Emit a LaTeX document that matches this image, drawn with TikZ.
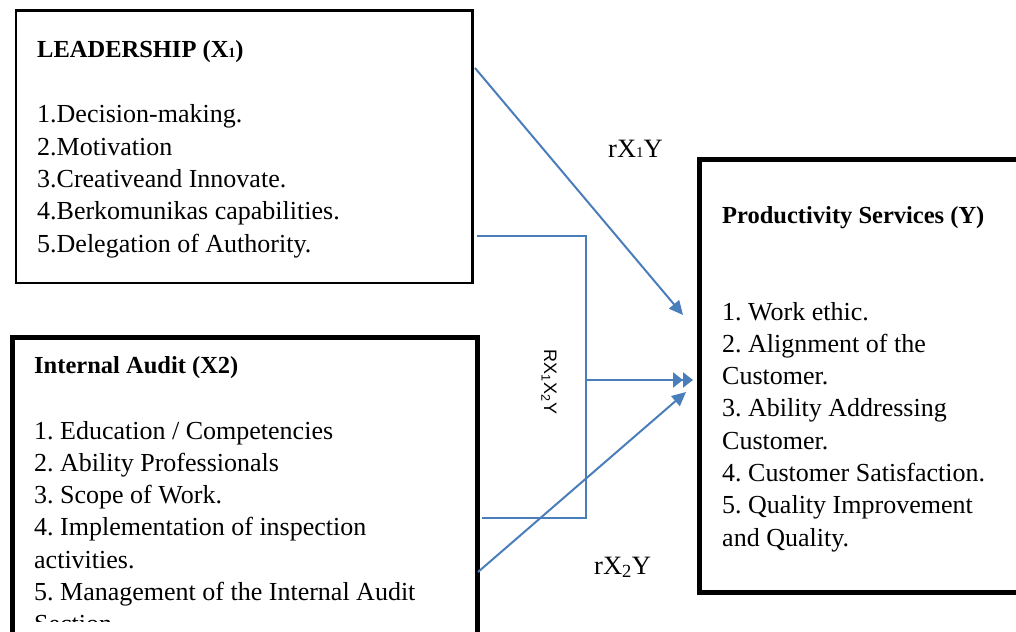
\documentclass[tikz,border=0pt]{standalone}
\usepackage{fontspec}
\setmainfont{Liberation Serif}
\newfontfamily\labelsans{Liberation Sans}
\usetikzlibrary{arrows.meta}
\definecolor{linkblue}{HTML}{4A7EBB}
\newcommand\linestack[1]{\vtop{\halign{##\hfil\cr#1\crcr}}}
\frenchspacing
\begin{document}
\begin{tikzpicture}[x=1pt,y=-1pt,
  box/.style={draw=black, rectangle, inner sep=0pt, outer sep=0pt, anchor=north west},
  thinbox/.style={box, line width=2.4pt},
  thickbox/.style={box, line width=5pt},
  title/.style={anchor=base west, inner sep=0pt, font=\fontsize{24.5}{30}\selectfont\bfseries},
  items/.style={anchor=base west, inner sep=0pt, font=\fontsize{26}{32.3}\selectfont},
  rlabel/.style={anchor=base west, inner sep=0pt, font=\fontsize{26.5}{30}\selectfont},
  conn/.style={draw=linkblue, line width=2pt},
  tip/.style={-{Triangle[length=14pt,width=13pt]}},
  dtip/.style={-{Triangle[length=10pt,width=15pt]Triangle[length=10pt,width=15pt]}}
]
\useasboundingbox (0,0) rectangle (1016,631);
\clip (0,0) rectangle (1016,631);

% boxes
\node[thinbox, minimum width=456.5pt, minimum height=272.5pt] (lead) at (16,10.5) {};
\node[thickbox, minimum width=465.5pt, minimum height=320pt] (audit) at (12,337.5) {};
\node[thickbox, minimum width=340pt, minimum height=432.5pt] (prod) at (699,160) {};

% box texts
\node[title] (leadt) at (37,58) {LEADERSHIP (X{\fontsize{14}{14}\selectfont 1})};
\node[items] (leadi) at (37,123) {\linestack{1.Decision-making.\cr 2.Motivation\cr 3.Creativeand Innovate.\cr 4.Berkomunikas capabilities.\cr 5.Delegation of Authority.}};

\node[title] (auditt) at (34,373) {Internal Audit (X2)};
\begin{scope}
\clip (0,0) rectangle (1016,621);
\node[items] (auditi) at (34,439) {\linestack{1. Education / Competencies\cr 2. Ability Professionals\cr 3. Scope of Work.\cr 4. Implementation of inspection\cr activities.\cr 5. Management of the Internal Audit\cr Section}};
\end{scope}

\node[title] (prodt) at (722,223) {Productivity Services (Y)};
\node[items] (prodi) at (722,320) {\linestack{1. Work ethic.\cr 2. Alignment of the\cr Customer.\cr 3. Ability Addressing\cr Customer.\cr 4. Customer Satisfaction.\cr 5. Quality Improvement\cr and Quality.}};

% labels
\node[rlabel] (r1) at (608,158) {rX{\fontsize{15}{15}\selectfont 1}Y};
\node[rlabel] (r2) at (594,574) {rX\textsubscript{2}Y};
\node[rotate=-90, inner sep=0pt, font=\labelsans\fontsize{18}{18}\selectfont] (r12) at (549,382) {RX\textsubscript{1}X\textsubscript{2}Y};

% connector end points
\coordinate (a1s) at (475,68);
\coordinate (a1e) at (683,315);
\coordinate (e1) at (477,236);
\coordinate (e2) at (482,518);
\coordinate (j) at (586,380);
\coordinate (jt) at (693,380);
\coordinate (a3s) at (478,572);
\coordinate (a3e) at (686,392);

% connectors
\draw[conn,tip] (a1s) -- (a1e);
\draw[conn] (e1) -| (j) |- (e2);
\draw[conn,dtip] (j) -- (jt);
\draw[conn,tip] (a3s) -- (a3e);
\end{tikzpicture}
\end{document}
